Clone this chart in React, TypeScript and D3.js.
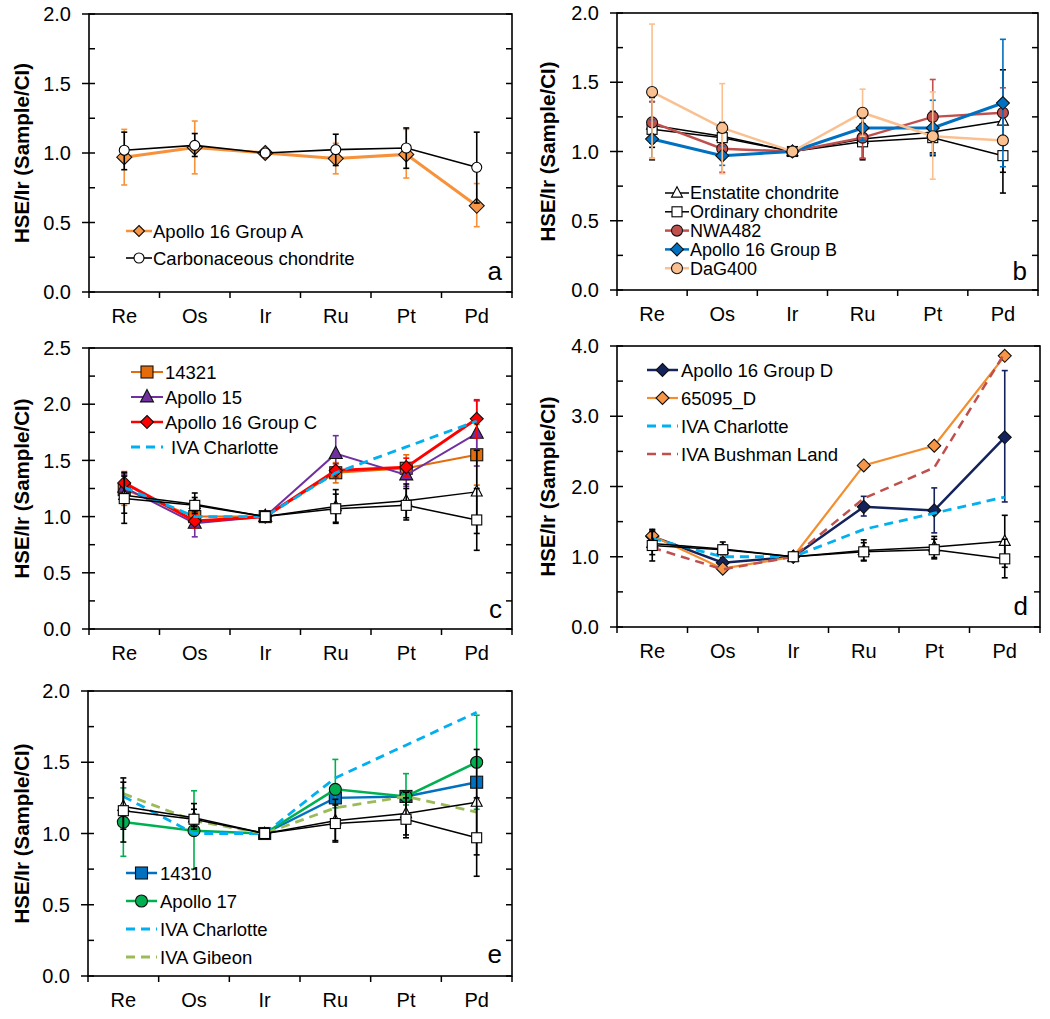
import React from "react";
import * as d3 from "d3";

const elements = ["Re", "Os", "Ir", "Ru", "Pt", "Pd"];

// Panel a
const ciValues = [1.02, 1.055, 1.0, 1.024, 1.036, 0.897];
const ciLow = [0.88, 0.975, 1.0, 0.91, 0.89, 0.64];
const ciHigh = [1.15, 1.14, 1.0, 1.135, 1.18, 1.15];
const a16AValues = [0.97, 1.04, 1.0, 0.96, 0.99, 0.62];
const a16ALow = [0.77, 0.85, 1.0, 0.85, 0.82, 0.47];
const a16AHigh = [1.17, 1.23, 1.0, 1.07, 1.17, 0.78];

// Chondrites (panels b-e)
const ecValues = [1.19, 1.11, 1.0, 1.09, 1.14, 1.22];
const ecLow = [1.03, 1.05, 1.0, 0.95, 0.99, 0.85];
const ecHigh = [1.39, 1.17, 1.0, 1.24, 1.29, 1.59];
const ocValues = [1.16, 1.1, 1.0, 1.07, 1.1, 0.97];
const ocLow = [0.94, 1.03, 1.0, 0.94, 0.97, 0.7];
const ocHigh = [1.36, 1.21, 1.0, 1.2, 1.25, 1.25];

// Panel b
const nwaValues = [1.21, 1.02, 1.0, 1.1, 1.25, 1.28];
const nwaLow = [1.06, 0.85, 1.0, 0.95, 0.98, 1.1];
const nwaHigh = [1.36, 1.19, 1.0, 1.26, 1.52, 1.46];
const a16BValues = [1.09, 0.97, 1.0, 1.17, 1.17, 1.35];
const a16BLow = [0.95, 0.9, 1.0, 1.08, 0.98, 0.89];
const a16BHigh = [1.23, 1.04, 1.0, 1.26, 1.37, 1.81];
const dagValues = [1.43, 1.17, 1.0, 1.28, 1.11, 1.08];
const dagLow = [0.95, 0.84, 1.0, 1.11, 0.8, 1.08];
const dagHigh = [1.92, 1.49, 1.0, 1.45, 1.43, 1.08];

// Panel c
const s14321Values = [1.24, 1.0, 1.0, 1.39, 1.43, 1.55];
const s14321Low = [1.1, 0.95, 1.0, 1.3, 1.33, 1.28];
const s14321High = [1.38, 1.05, 1.0, 1.48, 1.55, 1.82];
const a15Values = [1.26, 0.94, 1.0, 1.56, 1.37, 1.74];
const a15Low = [1.15, 0.82, 1.0, 1.4, 1.27, 1.45];
const a15High = [1.37, 1.06, 1.0, 1.72, 1.47, 2.03];
const a16CValues = [1.3, 0.96, 1.0, 1.41, 1.44, 1.87];
const a16CLow = [1.2, 0.9, 1.0, 1.35, 1.36, 1.7];
const a16CHigh = [1.4, 1.02, 1.0, 1.47, 1.52, 2.04];
const charlotteValues = [1.26, 1.0, 1.0, 1.39, 1.62, 1.85];

// Panel d
const a16DValues = [1.29, 0.915, 1.0, 1.71, 1.66, 2.7];
const a16DLow = [1.18, 0.85, 1.0, 1.58, 1.34, 1.78];
const a16DHigh = [1.38, 0.99, 1.0, 1.86, 1.98, 3.65];
const s65095Values = [1.3, 0.83, 1.0, 2.3, 2.58, 3.86];
const bushmanValues = [1.13, 0.82, 1.0, 1.83, 2.27, 3.9];

// Panel e
const s14310Values: (number | null)[] = [null, null, 1.0, 1.25, 1.26, 1.36];
const a17Values = [1.08, 1.02, 1.0, 1.31, 1.26, 1.5];
const a17Low = [0.84, 0.75, 1.0, 1.18, 1.2, 1.17];
const a17High = [1.32, 1.3, 1.0, 1.52, 1.42, 1.83];
const gibeonValues = [1.28, 1.09, 1.0, 1.18, 1.26, 1.15];

type MarkerType = "diamond" | "circle" | "square" | "triangle" | "none";
interface Series {
  name: string;
  values: (number | null)[];
  low?: number[];
  high?: number[];
  color: string;
  fill: string;
  marker: MarkerType;
  size: number;
  legendSize?: number;
  width: number;
  dash?: string;
}

const FONT = "'Liberation Sans', Arial, Helvetica, sans-serif";

const mk = (s: Series): Series => s;

const CI = mk({ name: "Carbonaceous chondrite", values: ciValues, low: ciLow, high: ciHigh, color: "#000", fill: "#fff", marker: "circle", size: 5, width: 1.6 });
const A16A = mk({ name: "Apollo 16 Group A", values: a16AValues, low: a16ALow, high: a16AHigh, color: "#F7923A", fill: "#F79646", marker: "diamond", size: 7.5, legendSize: 5.5, width: 3 });
const EC = mk({ name: "Enstatite chondrite", values: ecValues, low: ecLow, high: ecHigh, color: "#000", fill: "#fff", marker: "triangle", size: 5.5, width: 1.5 });
const OC = mk({ name: "Ordinary chondrite", values: ocValues, low: ocLow, high: ocHigh, color: "#000", fill: "#fff", marker: "square", size: 5, width: 1.5 });
const NWA = mk({ name: "NWA482", values: nwaValues, low: nwaLow, high: nwaHigh, color: "#C0504D", fill: "#C0504D", marker: "circle", size: 5.5, width: 2.5 });
const A16B = mk({ name: "Apollo 16 Group B", values: a16BValues, low: a16BLow, high: a16BHigh, color: "#0070C0", fill: "#0070C0", marker: "diamond", size: 6.5, width: 3 });
const DAG = mk({ name: "DaG400", values: dagValues, low: dagLow, high: dagHigh, color: "#FAC090", fill: "#FAC090", marker: "circle", size: 5.5, width: 2.5 });
const S14321 = mk({ name: "14321", values: s14321Values, low: s14321Low, high: s14321High, color: "#E46C0A", fill: "#E46C0A", marker: "square", size: 6, width: 2 });
const A15 = mk({ name: "Apollo 15", values: a15Values, low: a15Low, high: a15High, color: "#7030A0", fill: "#7030A0", marker: "triangle", size: 6.5, width: 2 });
const A16C = mk({ name: "Apollo 16 Group C", values: a16CValues, low: a16CLow, high: a16CHigh, color: "#FF0000", fill: "#FF0000", marker: "diamond", size: 6.5, width: 3 });
const CHARLOTTE = mk({ name: "IVA Charlotte", values: charlotteValues, color: "#00B0F0", fill: "none", marker: "none", size: 0, width: 2.8, dash: "9,6" });
const A16D = mk({ name: "Apollo 16 Group D", values: a16DValues, low: a16DLow, high: a16DHigh, color: "#14235C", fill: "#14235C", marker: "diamond", size: 6.5, width: 2.5 });
const S65095 = mk({ name: "65095_D", values: s65095Values, color: "#F28E2E", fill: "#F79646", marker: "diamond", size: 6.5, width: 2.2 });
const BUSHMAN = mk({ name: "IVA Bushman Land", values: bushmanValues, color: "#C0504D", fill: "none", marker: "none", size: 0, width: 2.5, dash: "9,6" });
const S14310 = mk({ name: "14310", values: s14310Values, color: "#0070C0", fill: "#0070C0", marker: "square", size: 6, width: 2.5 });
const A17 = mk({ name: "Apollo 17", values: a17Values, low: a17Low, high: a17High, color: "#00B050", fill: "#00B050", marker: "circle", size: 6, width: 2.5 });
const GIBEON = mk({ name: "IVA Gibeon", values: gibeonValues, color: "#9BBB59", fill: "none", marker: "none", size: 0, width: 2.8, dash: "9,6" });

interface LegendCfg {
  x: number;
  y0: number;
  dy: number;
  lineLen: number;
  textGap: number;
  fontSize: number;
  entries: { s: Series; dx?: number }[];
}

interface PanelCfg {
  left: number; right: number; top: number; bottom: number;
  yMax: number; major: number;
  label: string; labelX: number; labelY: number;
  titleX: number;
  series: Series[];
  legend: LegendCfg;
}

function Marker({ type, x, y, s, fill, stroke }: { type: MarkerType; x: number; y: number; s: number; fill: string; stroke: string }) {
  const sw = 1.1;
  if (type === "circle") return <circle cx={x} cy={y} r={s} fill={fill} stroke={stroke} strokeWidth={sw} />;
  if (type === "square") return <rect x={x - s} y={y - s} width={2 * s} height={2 * s} fill={fill} stroke={stroke} strokeWidth={sw} />;
  if (type === "diamond") return <polygon points={`${x},${y - s} ${x + s},${y} ${x},${y + s} ${x - s},${y}`} fill={fill} stroke={stroke} strokeWidth={sw} />;
  if (type === "triangle") return <polygon points={`${x},${y - s * 1.15} ${x + s},${y + s * 0.75} ${x - s},${y + s * 0.75}`} fill={fill} stroke={stroke} strokeWidth={sw} />;
  return null;
}

function Panel({ cfg }: { cfg: PanelCfg }) {
  const x = d3.scalePoint<string>().domain(elements).range([cfg.left, cfg.right]).padding(0.5);
  const band = d3.scaleBand<string>().domain(elements).range([cfg.left, cfg.right]);
  const y = d3.scaleLinear().domain([0, cfg.yMax]).range([cfg.bottom, cfg.top]);
  const minor = cfg.major / 2;
  const allTicks = d3.range(0, cfg.yMax + 1e-9, minor);
  const majorTicks = d3.range(0, cfg.yMax + 1e-9, cfg.major);
  const fmt = d3.format(".1f");
  const boundaries = d3.range(elements.length + 1).map((i) => cfg.left + i * band.step());
  const line = d3
    .line<number | null>()
    .defined((d) => d != null)
    .x((_, i) => x(elements[i]) as number)
    .y((d) => y(d as number));
  const markerStroke = (s: Series) => (s.color === "#000" ? "#000" : "#111");
  const lg = cfg.legend;
  return (
    <g>
      <rect x={cfg.left} y={cfg.top} width={cfg.right - cfg.left} height={cfg.bottom - cfg.top} fill="none" stroke="#000" strokeWidth={1.6} />
      {allTicks.map((t, i) => {
        const isMajor = i % 2 === 0;
        return (
          <line key={"yl" + i} x1={cfg.left - (isMajor ? 7 : 0)} x2={cfg.left + 6} y1={y(t)} y2={y(t)} stroke="#000" strokeWidth={1.5} />
        );
      })}
      {allTicks.map((t, i) => (
        <line key={"yr" + i} x1={cfg.right - 6} x2={cfg.right} y1={y(t)} y2={y(t)} stroke="#000" strokeWidth={1.5} />
      ))}
      {majorTicks.map((t, i) => (
        <text key={"yt" + i} x={cfg.left - 18} y={y(t)} dy="0.36em" textAnchor="end" fontSize={20} fontFamily={FONT} fill="#000">
          {fmt(t)}
        </text>
      ))}
      {boundaries.map((b, i) => (
        <line key={"xb" + i} x1={b} x2={b} y1={cfg.bottom} y2={cfg.bottom + 6} stroke="#000" strokeWidth={1.5} />
      ))}
      {elements.map((e) => (
        <text key={"xt" + e} x={x(e)} y={cfg.bottom + 31} textAnchor="middle" fontSize={20} fontFamily={FONT} fill="#000">
          {e}
        </text>
      ))}
      <text
        transform={`translate(${cfg.titleX},${(cfg.top + cfg.bottom) / 2}) rotate(-90)`}
        textAnchor="middle"
        dy="0.36em"
        fontSize={20.5}
        fontWeight="bold"
        fontFamily={FONT}
        fill="#000"
      >
        HSE/Ir (Sample/CI)
      </text>
      {cfg.series.map((s) => (
        <g key={s.name}>
          {s.low &&
            s.high &&
            s.values.map((v, i) => {
              if (v == null) return null;
              const lo = s.low![i];
              const hi = s.high![i];
              if (Math.abs(hi - lo) < 1e-6) return null;
              const cx = x(elements[i]) as number;
              return (
                <g key={"e" + i} stroke={s.color} strokeWidth={1.6}>
                  <line x1={cx} x2={cx} y1={y(lo)} y2={y(hi)} />
                  <line x1={cx - 3} x2={cx + 3} y1={y(lo)} y2={y(lo)} />
                  <line x1={cx - 3} x2={cx + 3} y1={y(hi)} y2={y(hi)} />
                </g>
              );
            })}
          <path d={line(s.values) || ""} fill="none" stroke={s.color} strokeWidth={s.width} strokeDasharray={s.dash} />
          {s.marker !== "none" &&
            s.values.map((v, i) =>
              v == null ? null : (
                <Marker key={"m" + i} type={s.marker} x={x(elements[i]) as number} y={y(v)} s={s.size} fill={s.fill} stroke={markerStroke(s)} />
              )
            )}
        </g>
      ))}
      {lg.entries.map((en, i) => {
        const yy = lg.y0 + i * lg.dy;
        const s = en.s;
        return (
          <g key={"lg" + i}>
            <line x1={lg.x} x2={lg.x + lg.lineLen} y1={yy} y2={yy} stroke={s.color} strokeWidth={s.dash ? s.width : Math.min(s.width, 2.5)} strokeDasharray={s.dash} />
            {s.marker !== "none" && (
              <Marker type={s.marker} x={lg.x + lg.lineLen / 2} y={yy} s={s.legendSize ?? s.size} fill={s.fill} stroke={markerStroke(s)} />
            )}
            <text x={lg.x + lg.lineLen + lg.textGap + (en.dx ?? 0)} y={yy} dy="0.36em" fontSize={lg.fontSize} fontFamily={FONT} fill="#000">
              {s.name}
            </text>
          </g>
        );
      })}
      <text x={cfg.labelX} y={cfg.labelY} textAnchor="end" fontSize={26} fontFamily={FONT} fill="#000">
        {cfg.label}
      </text>
    </g>
  );
}

const panels: PanelCfg[] = [
  {
    left: 89, right: 512, top: 14, bottom: 292, yMax: 2.0, major: 0.5,
    label: "a", labelX: 502, labelY: 280, titleX: 22,
    series: [A16A, CI],
    legend: { x: 126, y0: 231, dy: 27, lineLen: 26, textGap: 1, fontSize: 18.5, entries: [{ s: A16A }, { s: CI }] },
  },
  {
    left: 617, right: 1038, top: 13, bottom: 290, yMax: 2.0, major: 0.5,
    label: "b", labelX: 1027, labelY: 280, titleX: 548,
    series: [EC, OC, NWA, A16B, DAG],
    legend: { x: 665, y0: 193, dy: 18.8, lineLen: 24, textGap: 1, fontSize: 18, entries: [{ s: EC }, { s: OC }, { s: NWA }, { s: A16B }, { s: DAG }] },
  },
  {
    left: 89, right: 512, top: 348, bottom: 629, yMax: 2.5, major: 0.5,
    label: "c", labelX: 502, labelY: 618, titleX: 22,
    series: [S14321, A15, A16C, CHARLOTTE, EC, OC],
    legend: { x: 131, y0: 372, dy: 25, lineLen: 32, textGap: 2, fontSize: 18.5, entries: [{ s: S14321 }, { s: A15 }, { s: A16C }, { s: CHARLOTTE, dx: 6 }] },
  },
  {
    left: 617, right: 1040, top: 346, bottom: 627, yMax: 4.0, major: 1.0,
    label: "d", labelX: 1028, labelY: 615, titleX: 548,
    series: [A16D, S65095, CHARLOTTE, BUSHMAN, EC, OC],
    legend: { x: 647, y0: 370, dy: 28, lineLen: 31, textGap: 3, fontSize: 18.5, entries: [{ s: A16D }, { s: S65095 }, { s: CHARLOTTE }, { s: BUSHMAN }] },
  },
  {
    left: 88, right: 512, top: 691, bottom: 976, yMax: 2.0, major: 0.5,
    label: "e", labelX: 502, labelY: 963, titleX: 22,
    series: [S14310, A17, CHARLOTTE, GIBEON, EC, OC],
    legend: { x: 126, y0: 873, dy: 28, lineLen: 31, textGap: 3, fontSize: 18.5, entries: [{ s: S14310 }, { s: A17 }, { s: CHARLOTTE }, { s: GIBEON }] },
  },
];

export default function App() {
  return (
    <svg
      width={1050}
      height={1019}
      viewBox="0 0 1050 1019"
      style={{ position: "absolute", left: 0, top: 0, background: "#fff" }}
    >
      <rect width={1050} height={1019} fill="#fff" />
      {panels.map((p, i) => (
        <Panel key={i} cfg={p} />
      ))}
    </svg>
  );
}
